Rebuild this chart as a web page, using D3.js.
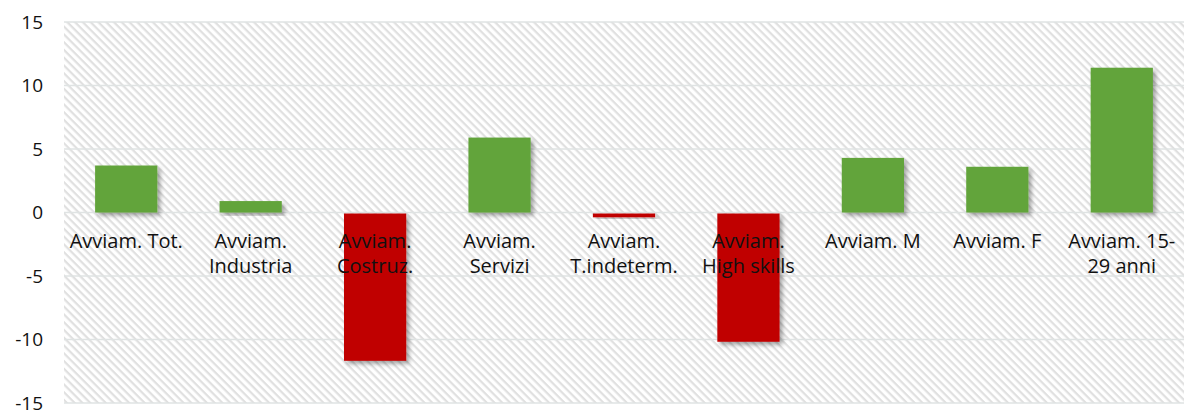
<!DOCTYPE html>
<html lang="it">
<head>
<meta charset="UTF-8">
<title>Avviamenti</title>
<script src="https://d3js.org/d3.v7.min.js"></script>
<style>
    body { margin: 0; background: #fff; }
    text { font-family: "Open Sans", sans-serif; fill: #111; }
</style>
</head>
<body>
<div id="chart"></div>
<script>
// dati
const categories = ["Avviam. Tot.", "Avviam.\nIndustria", "Avviam.\nCostruz.", "Avviam.\nServizi",
    "Avviam.\nT.indeterm.", "Avviam.\nHigh skills", "Avviam. M", "Avviam. F", "Avviam. 15-\n29 anni"];
const values = [3.7, 0.9, -11.6, 5.9, -0.3, -10.1, 4.3, 3.6, 11.4];
const yTicks = [-15, -10, -5, 0, 5, 10, 15];

const width = 1187, height = 410;
const margin = { top: 22, right: 3, bottom: 7, left: 64 };

const svg = d3.select("#chart").append("svg")
    .attr("width", width)
    .attr("height", height);

const defs = svg.append("defs");
const pat = defs.append("pattern")
    .attr("id", "hatch")
    .attr("patternUnits", "userSpaceOnUse")
    .attr("width", 5.5).attr("height", 5.5)
    .attr("patternTransform", "rotate(45)");
pat.append("rect").attr("width", 5.5).attr("height", 5.5).attr("fill", "#fff");
pat.append("rect").attr("width", 5.5).attr("height", 2.2).attr("fill", "#e0e0e0");

const shadow = defs.append("filter").attr("id", "shadow")
    .attr("x", "-20%").attr("y", "-20%").attr("width", "150%").attr("height", "150%");
shadow.append("feDropShadow")
    .attr("dx", 3).attr("dy", 3).attr("stdDeviation", 2)
    .attr("flood-color", "#000").attr("flood-opacity", 0.35);

const x = d3.scaleBand()
    .domain(categories)
    .range([margin.left, width - margin.right])
    .paddingInner(0.5)
    .paddingOuter(0.25);

const y = d3.scaleLinear()
    .domain([-15, 15])
    .range([height - margin.bottom, margin.top]);

// sfondo tratteggiato
svg.append("rect")
    .attr("x", margin.left).attr("y", margin.top)
    .attr("width", width - margin.right - margin.left)
    .attr("height", y(-15) - y(15))
    .attr("fill", "url(#hatch)");

// griglia
svg.append("g").selectAll("line")
    .data(yTicks)
    .join("line")
    .attr("x1", margin.left).attr("x2", width - margin.right)
    .attr("y1", d => y(d)).attr("y2", d => y(d))
    .attr("stroke", "#dfe3e3")
    .attr("stroke-width", 1.5);

// asse y
const yAxis = svg.append("g")
    .attr("transform", `translate(${margin.left},0)`)
    .call(d3.axisLeft(y).tickValues(yTicks).tickFormat(d => String(d)).tickSize(0).tickPadding(21));
yAxis.select(".domain").remove();
yAxis.selectAll("text")
    .style("font-size", "19px")
    .attr("fill", "#111")
    .style("font-family", "'Open Sans', sans-serif");

// barre
svg.append("g").selectAll("rect")
    .data(values)
    .join("rect")
    .attr("x", (d, i) => x(categories[i]))
    .attr("width", x.bandwidth())
    .attr("y", d => d >= 0 ? y(d) : y(0) + 1)
    .attr("height", d => Math.abs(y(d) - y(0)))
    .attr("fill", d => d >= 0 ? "#62a43a" : "#c00000")
    .attr("filter", "url(#shadow)");

// etichette categorie
const labels = svg.append("g").selectAll("text")
    .data(categories)
    .join("text")
    .attr("x", d => x(d) + x.bandwidth() / 2)
    .attr("y", y(0) + 35)
    .attr("text-anchor", "middle")
    .style("font-size", "20px");
labels.selectAll("tspan")
    .data(d => d.split("\n"))
    .join("tspan")
    .attr("x", function () { return this.parentNode.getAttribute("x"); })
    .attr("dy", (d, i) => i === 0 ? 0 : 25)
    .text(d => d);
</script>
</body>
</html>
